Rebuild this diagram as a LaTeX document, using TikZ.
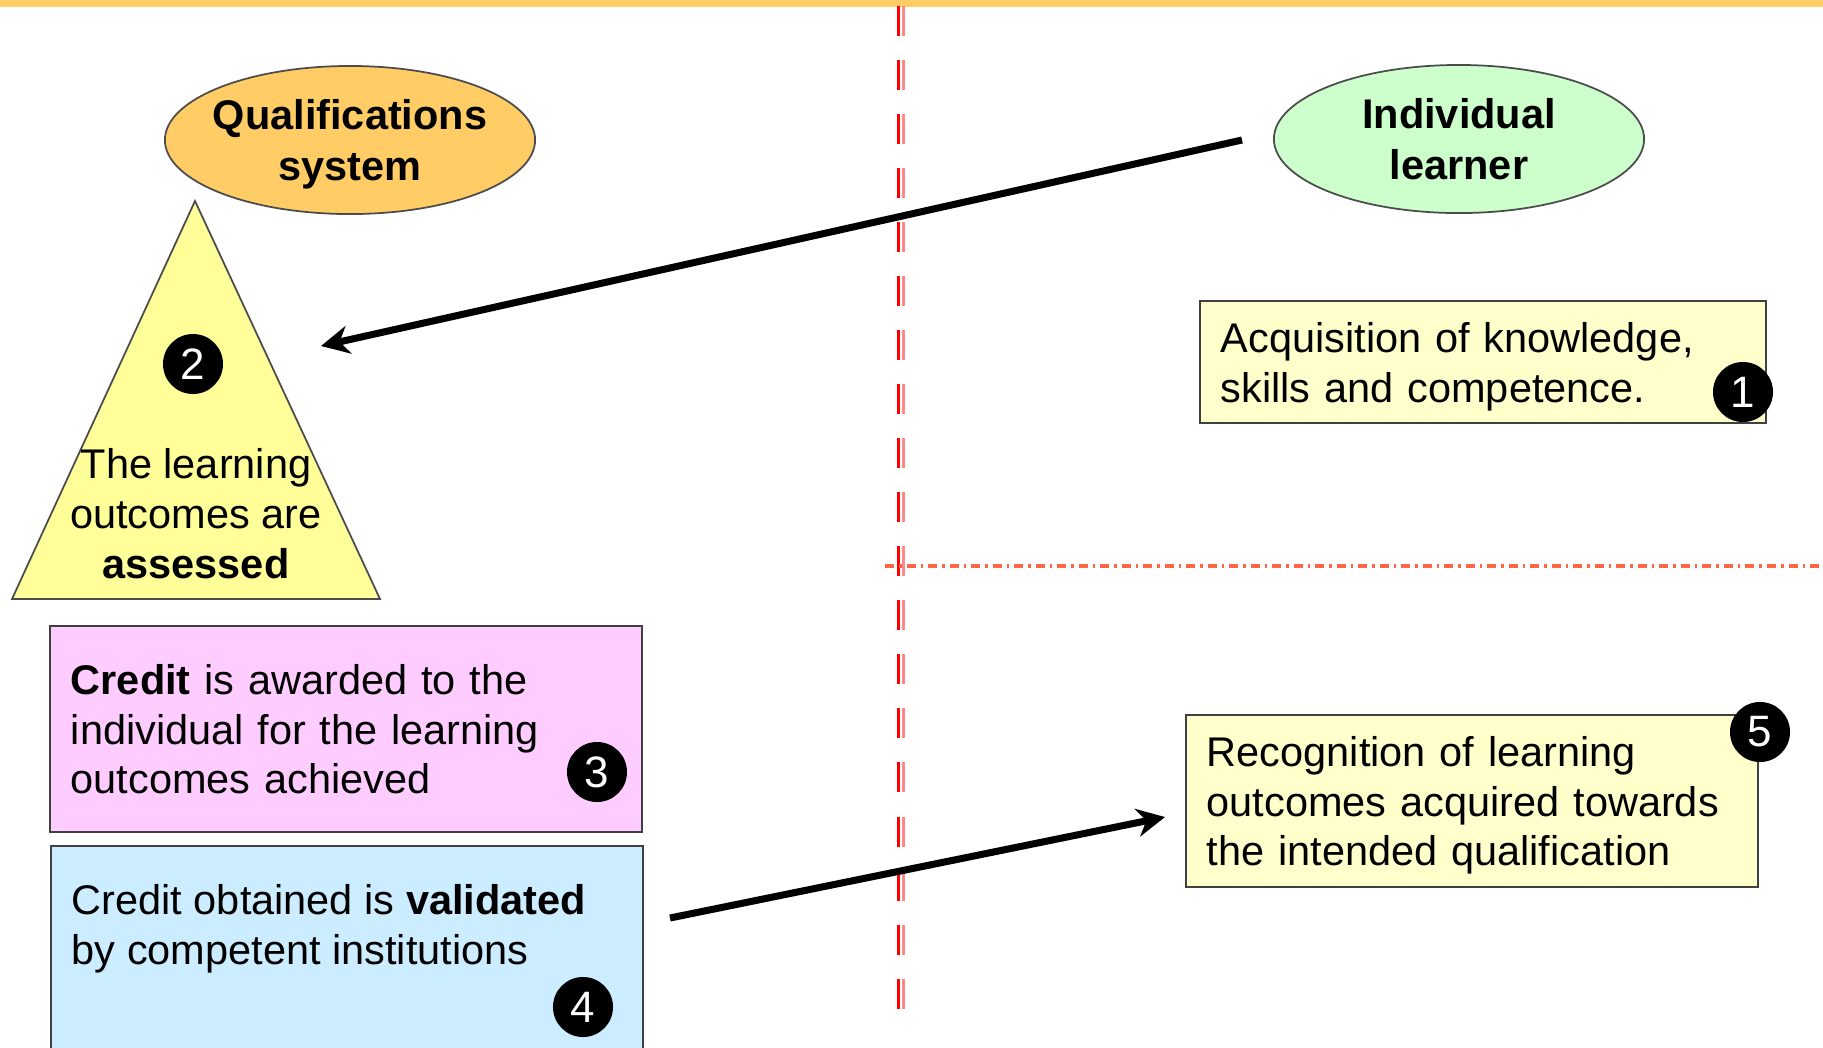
\documentclass[tikz,border=0pt]{standalone}
\usepackage{fontspec}
\setmainfont{Liberation Sans}
\usetikzlibrary{shapes.geometric,arrows.meta}

\definecolor{qualorange}{HTML}{FFCC66}
\definecolor{learnergreen}{HTML}{CCFFCC}
\definecolor{triyellow}{HTML}{FFFF99}
\definecolor{noteyellow}{HTML}{FFFFCC}
\definecolor{creditpink}{HTML}{FFCCFF}
\definecolor{validblue}{HTML}{CCECFF}
\definecolor{splitred}{HTML}{FF0000}
\definecolor{splitpink}{HTML}{FF8888}
\definecolor{dashorange}{HTML}{FF6644}

\tikzset{
  txt/.style={font=\fontsize{11.8pt}{14.2pt}\selectfont},
  actor/.style={ellipse, draw=black!70, line width=0.5pt, minimum width=3.70cm,
    minimum height=1.48cm, inner sep=-1cm, text depth=0pt, align=center,
    font=\fontsize{11.8pt}{14.4pt}\selectfont\bfseries},
  note/.style={rectangle, draw=black!75, line width=0.5pt, inner xsep=0.21cm,
    inner ysep=0pt, align=left, txt},
  twolines/.style={text depth=14.2pt},
  threelines/.style={text depth=28.4pt},
  num/.style={circle, fill=black, text=white, minimum size=0.6cm, inner sep=0pt,
    font=\fontsize{12.5pt}{14pt}\selectfont},
  flow/.style={line width=2pt, -{Stealth[length=8pt,width=8pt]}}
}

\begin{document}
\begin{tikzpicture}[x=0.01cm, y=-0.01cm]
  \useasboundingbox (0,0) rectangle (1823,1047);

  % top band
  \fill[qualorange] (0,0) rectangle (1823,7);

  % split lines
  \draw[splitred, line width=0.9pt, dash pattern=on 0.30cm off 0.24cm] (898.5,6) -- (898.5,1021);
  \draw[splitpink, line width=1.1pt, dash pattern=on 0.30cm off 0.24cm] (903.5,6) -- (903.5,1021);
  \draw[dashorange, line width=0.9pt,
    dash pattern=on 0.09cm off 0.05cm on 0.025cm off 0.05cm] (885,566) -- (1823,566);

  % actors
  \node[actor, fill=qualorange] (qual) at (350,140) {Qualifications\\system};
  \node[actor, fill=learnergreen] (learner) at (1459,139) {Individual\\learner};

  % assessment triangle
  \coordinate (apex) at (195,201);
  \coordinate (baseL) at (12,599);
  \coordinate (baseR) at (380,599);
  \draw[black!70, line width=0.5pt, fill=triyellow] (apex) -- (baseL) -- (baseR) -- cycle;
  \node[txt, align=center, inner sep=0pt] (assess) at (196,514)
    {The learning\\outcomes are\\\textbf{assessed}};
  \node[num] (n2) at (193,364) {2};

  % right column
  \node[note, twolines, fill=noteyellow, text width=5.24cm, minimum height=1.22cm] (acq) at (1483,362)
    {Acquisition of knowledge,\\skills and competence.};
  \node[num] (n1) at (1743,392) {1};

  \node[note, threelines, fill=noteyellow, text width=5.30cm, minimum height=1.72cm] (recog) at (1472,801)
    {Recognition of learning\\outcomes acquired towards\\the intended qualification};
  \node[num] (n5) at (1760,732) {5};

  % left column
  \node[note, threelines, fill=creditpink, text width=5.50cm, minimum height=2.06cm] (credit) at (346,729)
    {\textbf{Credit} is awarded to the\\individual for the learning\\outcomes achieved};
  \node[num] (n3) at (597,772) {3};

  \node[note, fill=validblue, minimum width=5.92cm, minimum height=2.10cm,
    anchor=north west] (valid) at (50,845) {};
  \node[txt, align=left, inner sep=0pt, anchor=north west] (validtxt) at (71,884)
    {Credit obtained is \textbf{validated}\\by competent institutions};
  \node[num] (n4) at (583,1007) {4};

  % flows
  \coordinate (fromLearner) at (1242,140);
  \coordinate (toAssess) at (321,346);
  \draw[flow] (fromLearner) -- (toAssess);

  \coordinate (fromValid) at (670,918);
  \coordinate (toRecog) at (1165,817);
  \draw[flow] (fromValid) -- (toRecog);
\end{tikzpicture}
\end{document}
